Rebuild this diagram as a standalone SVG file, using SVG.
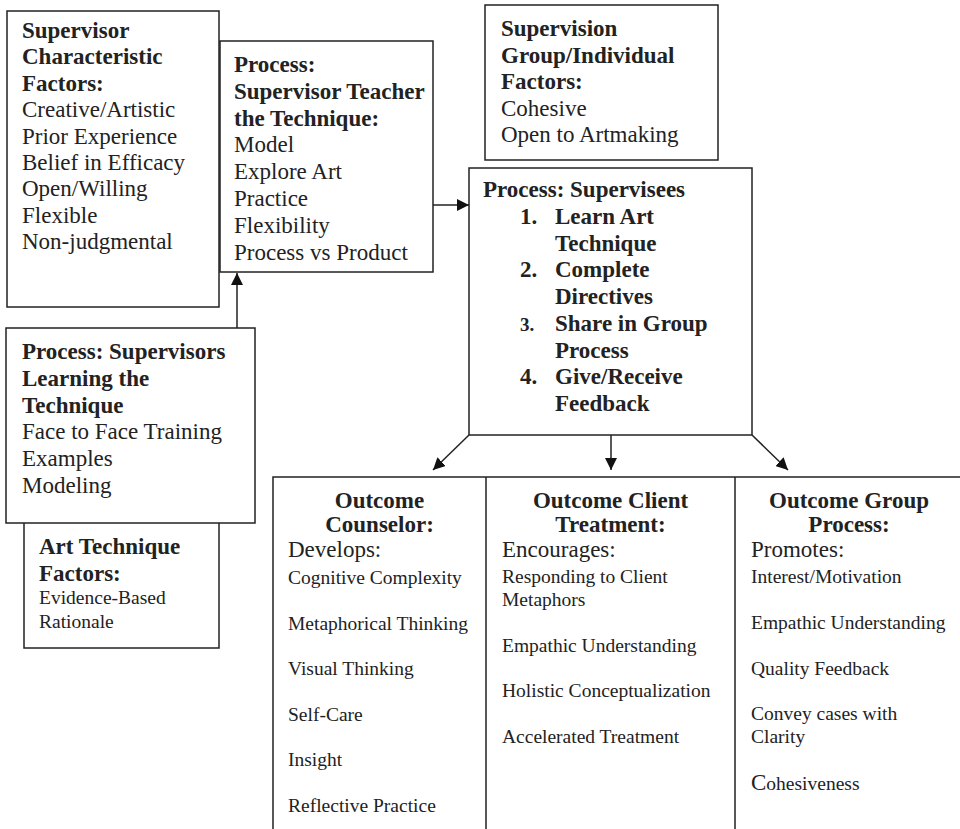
<svg xmlns="http://www.w3.org/2000/svg" width="960" height="829" viewBox="0 0 960 829">
<style>
.box{fill:#fff;stroke:#222;stroke-width:1.5}
.ln{fill:none;stroke:#222;stroke-width:1.5}
text{font-family:"Liberation Serif","Times New Roman",serif;fill:#222}
.b{font-size:23px;font-weight:bold}
.r{font-size:23px}
.s{font-size:19.5px}
.c{text-anchor:middle}
</style>
<defs>
<marker id="ah" markerUnits="userSpaceOnUse" markerWidth="12" markerHeight="12" viewBox="0 0 12 12" refX="12" refY="6" orient="auto">
<path d="M0,0 L12,6 L0,12 Z" fill="#111"/>
</marker>
</defs>

<g id="art-technique-factors">
<rect class="box" x="24" y="500" width="195" height="148"/>
<text class="b" x="39" y="554">Art Technique</text>
<text class="b" x="39" y="581">Factors:</text>
<text class="s" x="39" y="604">Evidence-Based</text>
<text class="s" x="39" y="628">Rationale</text>
</g>

<g id="supervisor-characteristic">
<rect class="box" x="7" y="11" width="212" height="296"/>
<text class="b" x="22" y="38">Supervisor</text>
<text class="b" x="22" y="64.4">Characteristic</text>
<text class="b" x="22" y="90.8">Factors:</text>
<text class="r" x="22" y="117.2">Creative/Artistic</text>
<text class="r" x="22" y="143.6">Prior Experience</text>
<text class="r" x="22" y="170">Belief in Efficacy</text>
<text class="r" x="22" y="196.4">Open/Willing</text>
<text class="r" x="22" y="222.8">Flexible</text>
<text class="r" x="22" y="249.2">Non-judgmental</text>
</g>

<g id="supervisor-teacher">
<rect class="box" x="220" y="41" width="213" height="231"/>
<text class="b" x="234" y="72">Process:</text>
<text class="b" x="234" y="98.8">Supervisor Teacher</text>
<text class="b" x="234" y="125.6">the Technique:</text>
<text class="r" x="234" y="152.4">Model</text>
<text class="r" x="234" y="179.2">Explore Art</text>
<text class="r" x="234" y="206">Practice</text>
<text class="r" x="234" y="232.8">Flexibility</text>
<text class="r" x="234" y="259.6">Process vs Product</text>
</g>

<g id="supervision-group">
<rect class="box" x="485" y="5" width="233" height="155"/>
<text class="b" x="501" y="36">Supervision</text>
<text class="b" x="501" y="62.5">Group/Individual</text>
<text class="b" x="501" y="89">Factors:</text>
<text class="r" x="501" y="115.5">Cohesive</text>
<text class="r" x="501" y="142">Open to Artmaking</text>
</g>

<g id="supervisees">
<rect class="box" x="469" y="168" width="283" height="267"/>
<text class="b" x="483" y="197">Process: Supervisees</text>
<text class="b" x="520" y="223.75">1.</text><text class="b" x="555" y="223.75">Learn Art</text>
<text class="b" x="555" y="250.5">Technique</text>
<text class="b" x="520" y="277.25">2.</text><text class="b" x="555" y="277.25">Complete</text>
<text class="b" x="555" y="304">Directives</text>
<text x="520" y="330.75" style="font-size:19px;font-weight:bold">3.</text><text class="b" x="555" y="330.75">Share in Group</text>
<text class="b" x="555" y="357.5">Process</text>
<text class="b" x="520" y="384.25">4.</text><text class="b" x="555" y="384.25">Give/Receive</text>
<text class="b" x="555" y="411">Feedback</text>
</g>

<g id="supervisors-learning">
<rect class="box" x="6" y="328" width="249" height="195"/>
<text class="b" x="22" y="359">Process: Supervisors</text>
<text class="b" x="22" y="385.8">Learning the</text>
<text class="b" x="22" y="412.6">Technique</text>
<text class="r" x="22" y="439.4">Face to Face Training</text>
<text class="r" x="22" y="466.2">Examples</text>
<text class="r" x="22" y="493">Modeling</text>
</g>

<g id="outcomes-frame">
<path class="ln" d="M273,840 V477 H962 M486,477 V840 M735,477 V840"/>
</g>

<g id="outcome-counselor">
<text class="b c" x="379.5" y="508">Outcome</text>
<text class="b c" x="379.5" y="532">Counselor:</text>
<text class="r" x="288" y="557">Develops:</text>
<text class="s" x="288" y="584">Cognitive Complexity</text>
<text class="s" x="288" y="629.5">Metaphorical Thinking</text>
<text class="s" x="288" y="675">Visual Thinking</text>
<text class="s" x="288" y="720.5">Self-Care</text>
<text class="s" x="288" y="766">Insight</text>
<text class="s" x="288" y="811.5">Reflective Practice</text>
</g>

<g id="outcome-client">
<text class="b c" x="610.5" y="508">Outcome Client</text>
<text class="b c" x="610.5" y="532">Treatment:</text>
<text class="r" x="502" y="557">Encourages:</text>
<text class="s" x="502" y="583">Responding to Client</text>
<text class="s" x="502" y="606">Metaphors</text>
<text class="s" x="502" y="651.5">Empathic Understanding</text>
<text class="s" x="502" y="697">Holistic Conceptualization</text>
<text class="s" x="502" y="742.5">Accelerated Treatment</text>
</g>

<g id="outcome-group">
<text class="b c" x="849" y="508">Outcome Group</text>
<text class="b c" x="849" y="532">Process:</text>
<text class="r" x="751" y="557">Promotes:</text>
<text class="s" x="751" y="583">Interest/Motivation</text>
<text class="s" x="751" y="629">Empathic Understanding</text>
<text class="s" x="751" y="675">Quality Feedback</text>
<text class="s" x="751" y="720">Convey cases with</text>
<text class="s" x="751" y="743">Clarity</text>
<text class="s" x="751" y="790"><tspan style="font-size:23px">C</tspan>ohesiveness</text>
</g>

<g id="connectors">
<line class="ln" x1="237" y1="328" x2="237" y2="273" marker-end="url(#ah)"/>
<line class="ln" x1="433" y1="205" x2="469" y2="205" marker-end="url(#ah)"/>
<line class="ln" x1="469" y1="435" x2="433" y2="470" marker-end="url(#ah)"/>
<line class="ln" x1="611" y1="435" x2="611" y2="470" marker-end="url(#ah)"/>
<line class="ln" x1="752" y1="435" x2="788" y2="470" marker-end="url(#ah)"/>
</g>
</svg>
